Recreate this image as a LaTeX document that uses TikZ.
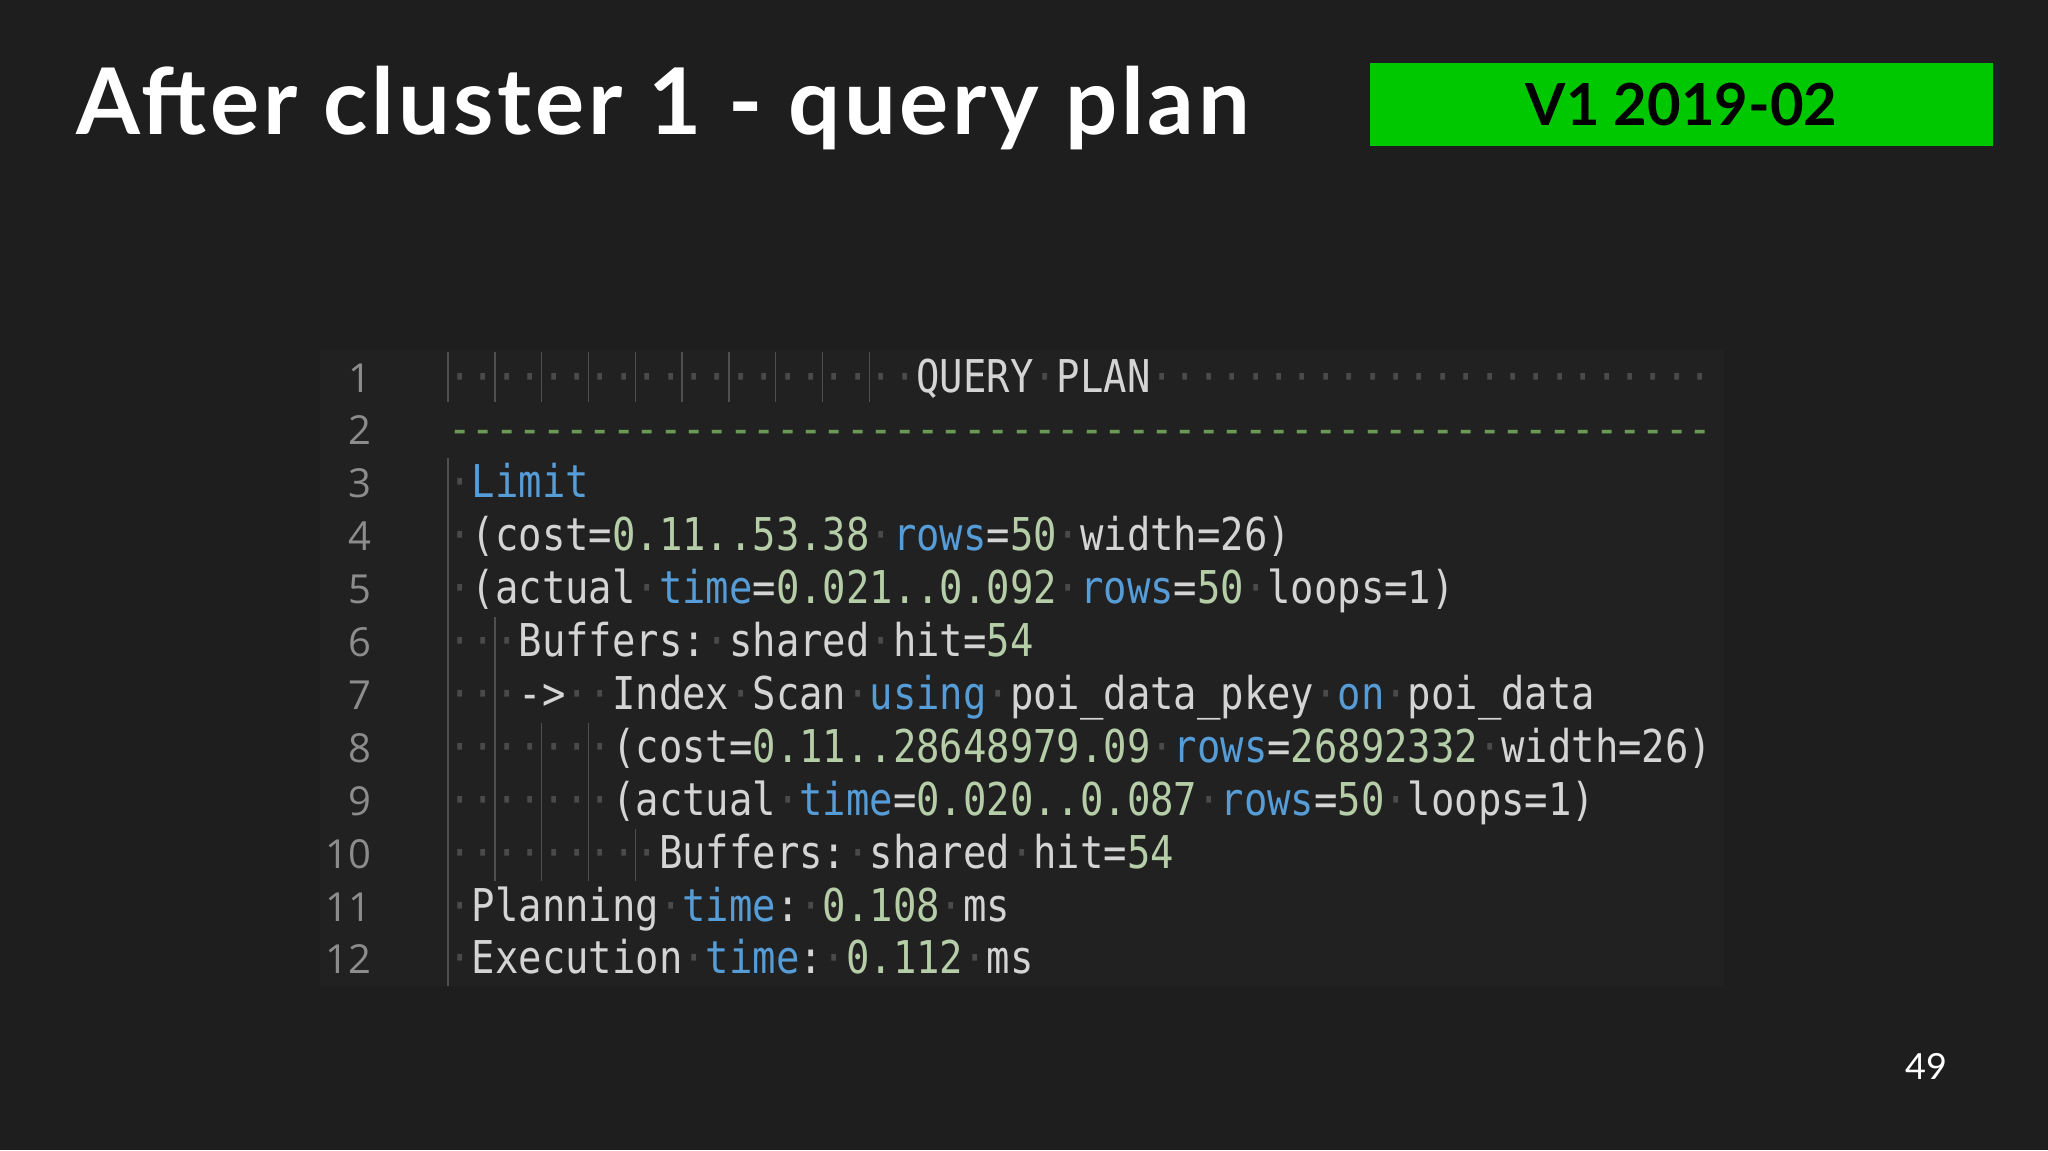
\documentclass[tikz,border=0pt]{standalone}
\usepackage{fontspec}
\setmainfont{Lato}
\newfontfamily\codefont[FakeStretch=0.86]{DejaVu Sans Mono}
\newfontfamily\numfont{Open Sans}
\definecolor{bgc}{HTML}{1E1E1E}
\definecolor{panel}{HTML}{212121}
\definecolor{txt}{HTML}{D4D4D4}
\definecolor{kwc}{HTML}{569CD6}
\definecolor{nmc}{HTML}{B5CEA8}
\definecolor{dashc}{HTML}{6A9955}
\definecolor{lnc}{HTML}{8C8C8C}
\definecolor{wsc}{HTML}{4A4A4A}
\definecolor{guide}{HTML}{505050}
\definecolor{boxg}{HTML}{00C800}
\newcommand{\kw}[1]{\textcolor{kwc}{#1}}
\newcommand{\nm}[1]{\textcolor{nmc}{#1}}
\newcommand{\wsd}{\textcolor{wsc}{·}}
\begin{document}
\begin{tikzpicture}[x=0.5pt,y=-0.5pt,
  codeline/.style={anchor=base west,inner sep=0,text=txt,font=\codefont\fontsize{22.6}{26}\selectfont},
  lnum/.style={anchor=base east,inner sep=0,text=lnc,font=\numfont\fontsize{20}{24}\selectfont},
  guideline/.style={draw=guide,line width=0.7pt}]
\fill[bgc] (0,0) rectangle (2048,1150);
\useasboundingbox (0,0) rectangle (2048,1150);
\fill[panel] (320,350) rectangle (1724,986);
\node[anchor=base west,inner sep=0,text=white,font=\bfseries\fontsize{46}{52}\selectfont] (title) at (76,135) {\addfontfeatures{LetterSpace=4}After cluster 1 - query plan};
\node[fill=boxg,minimum width=311.5pt,minimum height=41.5pt,inner sep=0,font=\bfseries\fontsize{29}{34}\selectfont,text=black] (tag) at (1681.5,104.5) {V1 2019-02};
\node[anchor=base,inner sep=0,text=white,font=\fontsize{18}{22}\selectfont] (page) at (1926,1079) {49};
% line numbers
\foreach \n in {1,...,12}{
  \node[lnum] (ln\n) at (372,{392+(\n-1)*52.9}) {\n};
}
% code lines
\node[codeline] (c1) at (448,392) {\wsd\wsd\wsd\wsd\wsd\wsd\wsd\wsd\wsd\wsd\wsd\wsd\wsd\wsd\wsd\wsd\wsd\wsd\wsd\wsd QUERY\wsd PLAN\wsd\wsd\wsd\wsd\wsd\wsd\wsd\wsd\wsd\wsd\wsd\wsd\wsd\wsd\wsd\wsd\wsd\wsd\wsd\wsd\wsd\wsd\wsd\wsd};
\node[codeline,text=dashc] (c2) at (448,444.9) {------------------------------------------------------};
\node[codeline] (c3) at (448,497.8) {\wsd\kw{Limit}};
\node[codeline] (c4) at (448,550.7) {\wsd(cost=\nm{0.11..53.38}\wsd\kw{rows}=\nm{50}\wsd width=26)};
\node[codeline] (c5) at (448,603.6) {\wsd(actual\wsd\kw{time}=\nm{0.021..0.092}\wsd\kw{rows}=\nm{50}\wsd loops=1)};
\node[codeline] (c6) at (448,656.5) {\wsd\wsd\wsd Buffers:\wsd shared\wsd hit=\nm{54}};
\node[codeline] (c7) at (448,709.4) {\wsd\wsd\wsd->\wsd\wsd Index\wsd Scan\wsd\kw{using}\wsd poi\_data\_pkey\wsd\kw{on}\wsd poi\_data};
\node[codeline] (c8) at (448,762.3) {\wsd\wsd\wsd\wsd\wsd\wsd\wsd(cost=\nm{0.11..28648979.09}\wsd\kw{rows}=\nm{26892332}\wsd width=26)};
\node[codeline] (c9) at (448,815.2) {\wsd\wsd\wsd\wsd\wsd\wsd\wsd(actual\wsd\kw{time}=\nm{0.020..0.087}\wsd\kw{rows}=\nm{50}\wsd loops=1)};
\node[codeline] (c10) at (448,868.1) {\wsd\wsd\wsd\wsd\wsd\wsd\wsd\wsd\wsd Buffers:\wsd shared\wsd hit=\nm{54}};
\node[codeline] (c11) at (448,921) {\wsd Planning\wsd\kw{time}:\wsd\nm{0.108}\wsd ms};
\node[codeline] (c12) at (448,973.9) {\wsd Execution\wsd\kw{time}:\wsd\nm{0.112}\wsd ms};
% indentation guides
\foreach \k in {0,2,...,18}{
  \draw[guideline] ({448+\k*23.4},352) -- ({448+\k*23.4},402);
}
\draw[guideline] (448,458) -- (448,986);
\draw[guideline] ({448+2*23.4},617) -- ({448+2*23.4},881);
\draw[guideline] ({448+4*23.4},723) -- ({448+4*23.4},881);
\draw[guideline] ({448+6*23.4},723) -- ({448+6*23.4},881);
\draw[guideline] ({448+8*23.4},829) -- ({448+8*23.4},881);
\end{tikzpicture}
\end{document}
